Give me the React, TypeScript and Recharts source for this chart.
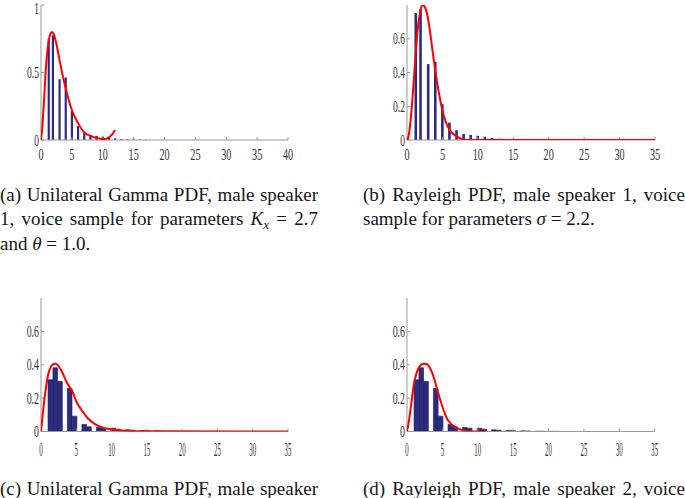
import React from 'react';
import { BarChart, Bar, LineChart, Line, XAxis, YAxis } from 'recharts';

// ---------- Speaker 1 histogram (panels a, b) ----------
const s1BarX = [1.25, 1.92, 3, 4, 5, 6, 7, 8, 9, 10, 11, 12, 13, 14, 15, 16, 17];
const s1BarH = [0.752, 0.775, 0.45, 0.463, 0.212, 0.103, 0.058, 0.036, 0.03, 0.025, 0.019, 0.012, 0.008, 0.006, 0.005, 0.004, 0.003];

// ---------- Speaker 2 histogram (panels c, d) ----------
const s2BarX = [1.34, 2.03, 2.71, 4.08, 4.77, 6.14, 6.82, 8.19, 8.88, 10.25, 10.93, 12.3, 12.99, 14.36, 15.04, 16.41, 17.1, 18.47, 19.15, 20.52, 21.21];
const s2BarH = [0.31, 0.382, 0.3, 0.258, 0.092, 0.042, 0.028, 0.024, 0.02, 0.02, 0.014, 0.01, 0.008, 0.006, 0.005, 0.004, 0.003, 0.002, 0.002, 0.001, 0.001];

// ---------- Fitted curves ----------
const aCurveX = [0, 0.1, 0.5, 0.8, 1.2, 1.5, 1.73, 2, 2.5, 3, 3.5, 4, 4.5, 5, 6, 7, 8, 9, 10, 10.5, 11, 11.5, 12];
const aCurveY = [0, 0.04, 0.3, 0.54, 0.72, 0.785, 0.8, 0.79, 0.71, 0.593, 0.48, 0.383, 0.295, 0.222, 0.125, 0.056, 0.03, 0.015, 0.007, 0.008, 0.02, 0.04, 0.074];

const bCurveX = [0, 0.1, 0.32, 0.56, 0.79, 1.03, 1.27, 1.5, 1.78, 2.02, 2.2, 2.55, 2.9, 3.28, 3.75, 4.23, 4.69, 5.16, 5.64, 6.34, 7.05, 7.75, 8.46, 35];
const bCurveY = [0, 0.005, 0.049, 0.138, 0.257, 0.395, 0.534, 0.652, 0.741, 0.787, 0.8, 0.785, 0.735, 0.632, 0.484, 0.346, 0.237, 0.148, 0.089, 0.043, 0.02, 0.006, 0, 0];

const cCurveX = [0, 0.28, 0.61, 0.99, 1.37, 1.7, 2.03, 2.41, 2.88, 3.59, 4, 4.5, 5, 5.72, 6.66, 7.6, 8.55, 9.5, 10.9, 12.3, 14, 35];
const cCurveY = [0, 0.116, 0.236, 0.336, 0.386, 0.402, 0.406, 0.396, 0.366, 0.3, 0.27, 0.235, 0.18, 0.13, 0.078, 0.046, 0.026, 0.016, 0.008, 0.004, 0.001, 0];

const dCurveX = [0, 0.24, 0.57, 0.95, 1.32, 1.79, 2.12, 2.45, 2.83, 3.3, 3.77, 4.24, 4.72, 5.19, 5.66, 6.36, 7.07, 7.78, 8.5, 8.96, 10, 11.1];
const dCurveY = [0, 0.056, 0.156, 0.276, 0.346, 0.39, 0.403, 0.406, 0.403, 0.376, 0.326, 0.256, 0.186, 0.126, 0.076, 0.04, 0.02, 0.008, 0.002, 0, 0, 0];

// ---------- Ticks ----------
const xTicks40 = [0, 5, 10, 15, 20, 25, 30, 35, 40];
const xTicks35 = [0, 5, 10, 15, 20, 25, 30, 35];
const yTicks1 = [0, 0.5, 1];
const yTicks08 = [0, 0.2, 0.4, 0.6];

const BORDER = '#999999';
const BAR_FILL = '#2b2b86';
const TICK_COLOR = '#333333';

const makeTick = (fs: number, sx: number, anchor: 'middle' | 'end', minY: number) => (props: any) => {
  const { x, y, payload } = props;
  const yy = Math.max(y, minY);
  return (
    <text
      transform={`translate(${x},${yy}) scale(${sx},1)`}
      textAnchor={anchor}
      dominantBaseline="central"
      fontFamily='"Liberation Serif", "Times New Roman", serif'
      fontSize={fs}
      fill={TICK_COLOR}
    >
      {String(payload.value)}
    </text>
  );
};

type PanelProps = {
  left: number; top: number; w: number; h: number;
  xMax: number; xTicks: number[]; yMax: number; yTicks: number[];
  barX: number[]; barH: number[]; barSize: number; barStroke?: string;
  curveX: number[]; curveY: number[];
  xfs: number; xsx: number; yfs: number; ysx: number; xOff: number;
};

function Panel(p: PanelProps) {
  const ML = 40, MT = 8, MB = 30, MR = 6;
  const W = ML + p.w + MR;
  const H = MT + p.h + MB;
  const bars = p.barX.map((x, i) => ({ x, h: p.barH[i] }));
  const curve = p.curveX.map((x, i) => ({ x, c: p.curveY[i] }));
  return (
    <div style={{ position: 'absolute', left: p.left - ML, top: p.top - MT, width: W, height: H }}>
      <div style={{ position: 'absolute', left: 0, top: 0 }}>
        <BarChart width={W} height={H} data={bars} margin={{ top: MT, right: MR, bottom: 0, left: 0 }}>
          <XAxis
            dataKey="x" type="number" domain={[0, p.xMax]} ticks={p.xTicks} height={MB}
            allowDataOverflow
            tickSize={-3} tickMargin={p.xOff + 3}
            axisLine={{ stroke: BORDER }} tickLine={{ stroke: BORDER }}
            tick={makeTick(p.xfs, p.xsx, 'middle', 0)} interval={0}
          />
          <XAxis
            xAxisId="t" orientation="top" type="number" domain={[0, p.xMax]} ticks={p.xTicks} height={0}
            allowDataOverflow
            tickSize={-3} axisLine={{ stroke: BORDER }} tickLine={{ stroke: BORDER }} tick={false} interval={0}
          />
          <YAxis
            type="number" domain={[0, p.yMax]} ticks={p.yTicks} width={ML}
            allowDataOverflow
            tickSize={-3} tickMargin={5}
            axisLine={{ stroke: BORDER }} tickLine={{ stroke: BORDER }}
            tick={makeTick(p.yfs, p.ysx, 'end', MT + 3.5)} interval={0}
          />
          <YAxis
            yAxisId="r" orientation="right" type="number" domain={[0, p.yMax]} ticks={p.yTicks} width={0}
            allowDataOverflow
            tickSize={-3} axisLine={{ stroke: BORDER }} tickLine={{ stroke: BORDER }} tick={false} interval={0}
          />
          <Bar
            dataKey="h" fill={BAR_FILL} barSize={p.barSize}
            stroke={p.barStroke} strokeWidth={p.barStroke ? 0.6 : 0}
            isAnimationActive={false}
          />
        </BarChart>
      </div>
      <div style={{ position: 'absolute', left: 0, top: 0 }}>
        <LineChart width={W} height={H} data={curve} margin={{ top: MT, right: MR, bottom: MB, left: ML }}>
          <XAxis dataKey="x" type="number" domain={[0, p.xMax]} hide allowDataOverflow />
          <YAxis type="number" domain={[0, p.yMax]} hide allowDataOverflow />
          <Line
            dataKey="c" type="monotone" stroke="#ff0000" strokeWidth={2}
            dot={false} activeDot={false} isAnimationActive={false}
          />
        </LineChart>
      </div>
    </div>
  );
}

const capBase: React.CSSProperties = {
  position: 'absolute',
  fontFamily: '"Liberation Serif", "Times New Roman", serif',
  fontSize: 19,
  lineHeight: '24.5px',
  color: '#161616',
  whiteSpace: 'nowrap',
};
const just: React.CSSProperties = { textAlign: 'justify', textAlignLast: 'justify', whiteSpace: 'normal' };
const sub: React.CSSProperties = { fontSize: '0.7em', fontStyle: 'italic', position: 'relative', top: '0.3em', lineHeight: 0 };

export default function App() {
  return (
    <div style={{ position: 'absolute', left: 0, top: 0, width: 685, height: 498, background: '#fff', overflow: 'hidden' }}>
      <Panel
        left={41} top={5} w={247} h={135} xMax={40} xTicks={xTicks40} yMax={1} yTicks={yTicks1}
        barX={s1BarX} barH={s1BarH} barSize={2.2} curveX={aCurveX} curveY={aCurveY}
        xfs={17} xsx={0.6} yfs={17} ysx={0.56} xOff={15}
      />
      <Panel
        left={407} top={5} w={248} h={135} xMax={35} xTicks={xTicks35} yMax={0.8} yTicks={yTicks08}
        barX={s1BarX} barH={s1BarH} barSize={2.6} curveX={bCurveX} curveY={bCurveY}
        xfs={17} xsx={0.6} yfs={17} ysx={0.56} xOff={15}
      />
      <Panel
        left={41} top={297.5} w={247} h={133.5} xMax={35} xTicks={xTicks35} yMax={0.8} yTicks={yTicks08}
        barX={s2BarX} barH={s2BarH} barSize={4.6} barStroke="#14143c" curveX={cCurveX} curveY={cCurveY}
        xfs={19} xsx={0.36} yfs={17} ysx={0.58} xOff={18}
      />
      <Panel
        left={407.3} top={297.5} w={247.7} h={133.5} xMax={35} xTicks={xTicks35} yMax={0.8} yTicks={yTicks08}
        barX={s2BarX} barH={s2BarH} barSize={4.6} barStroke="#14143c" curveX={dCurveX} curveY={dCurveY}
        xfs={19} xsx={0.36} yfs={17} ysx={0.58} xOff={18}
      />

      <div style={{ ...capBase, left: 0, top: 182.75, width: 318 }}>
        <div style={just}>(a) Unilateral Gamma PDF, male speaker</div>
        <div style={just}>1, voice sample for parameters <i>K</i><span style={sub}>x</span> = 2.7</div>
        <div>and <i>θ</i> = 1.0.</div>
      </div>
      <div style={{ ...capBase, left: 363, top: 182.75, width: 322 }}>
        <div style={just}>(b) Rayleigh PDF, male speaker 1, voice</div>
        <div>sample for parameters <i>σ</i> = 2.2.</div>
      </div>
      <div style={{ ...capBase, left: 0, top: 477, width: 318 }}>
        <div style={just}>(c) Unilateral Gamma PDF, male speaker</div>
      </div>
      <div style={{ ...capBase, left: 363, top: 477, width: 322 }}>
        <div style={just}>(d) Rayleigh PDF, male speaker 2, voice</div>
      </div>
    </div>
  );
}
